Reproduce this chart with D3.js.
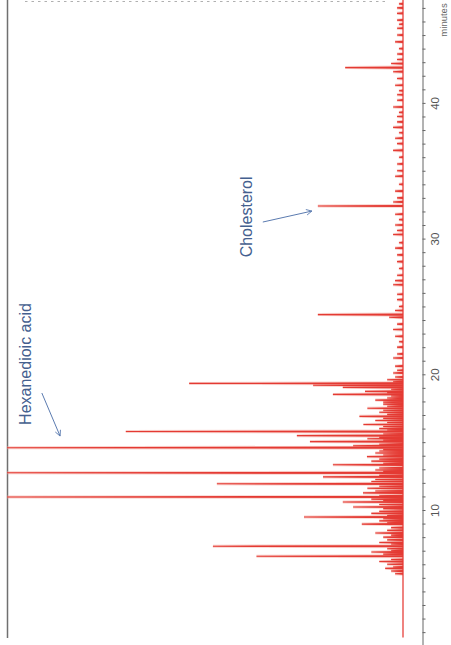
<!DOCTYPE html>
<html>
<head>
<meta charset="utf-8">
<script src="https://cdn.jsdelivr.net/npm/d3@7"></script>
<style>
  body { margin: 0; background: #fff; }
  svg { display: block; font-family: "Liberation Sans", Arial, sans-serif; }
</style>
</head>
<body>
<div id="chart"></div>
<script>
// chromatogram drawn sideways: retention time runs up the right edge, peaks grow to the left

// big labelled / tall peaks [minutes, % of full scale]
const majorPeaks = [
  [6.59, 37], [7.33, 48], [9.48, 25], [10.96, 100], [11.93, 47], [12.74, 100],
  [14.59, 100], [15.78, 70], [19.33, 54], [24.4, 21.5], [32.4, 21.5], [42.6, 14.6]
];

// medium peaks
const mediumPeaks = [
  [5.7, 4.5], [6.2, 6], [6.9, 8], [7.6, 6], [8.0, 5], [8.3, 7], [8.96, 10.4], [9.2, 6],
  [9.75, 8], [10.22, 12.6], [10.59, 15.2], [10.8, 8], [11.26, 10.1], [11.6, 9], [12.1, 8],
  [12.44, 20.2], [12.95, 7], [13.33, 17.7], [13.6, 8], [13.93, 9.1], [14.2, 7], [14.74, 12.6],
  [15.04, 23.5], [15.25, 9], [15.48, 26.8], [16.0, 6], [16.3, 10], [16.6, 7], [16.9, 11],
  [17.2, 6], [17.5, 9], [17.8, 5], [18.1, 7], [18.52, 17.7], [18.74, 9.6], [19.04, 15.2],
  [19.19, 22.7], [19.6, 4], [20.1, 2.5], [20.6, 2], [21.2, 2.5], [22.0, 1.5], [22.8, 2],
  [23.3, 2.5], [24.2, 3.5], [24.7, 2], [25.5, 1.5], [26.6, 2.5], [27.3, 1.5], [28.3, 1.5], [29.3, 2],
  [30.3, 2.5], [31.0, 2], [31.8, 2], [32.7, 2.5], [33.5, 2], [34.6, 2], [35.5, 1.5],
  [36.5, 2.5], [37.4, 2], [38.2, 2.5], [39.0, 1.5], [39.7, 2.5], [40.6, 1.5], [41.3, 2], [42.3, 2.5],
  [42.9, 3], [43.6, 1.5], [44.5, 2], [45.5, 1.5], [46.1, 1.5], [47.0, 1.5]
];

// small baseline noise spikes
const noisePeaks = [
  [5.3, 2], [5.5, 3], [5.8, 2.5], [6.0, 4], [6.35, 3], [6.75, 5], [7.0, 3], [7.15, 4], [7.5, 3],
  [7.8, 4], [8.15, 3], [8.5, 4], [8.7, 3], [9.05, 4], [9.35, 5], [9.6, 4], [9.9, 6], [10.1, 5],
  [10.4, 6], [10.7, 5], [11.05, 6], [11.4, 7], [11.75, 6], [12.25, 7], [12.55, 6], [12.85, 5],
  [13.1, 6], [13.45, 5], [13.75, 6], [14.05, 5], [14.35, 6], [14.45, 5], [14.85, 6], [15.15, 5],
  [15.35, 6], [15.6, 5], [15.9, 4], [16.15, 5], [16.45, 4], [16.75, 5], [17.05, 4], [17.35, 5],
  [17.65, 4], [17.95, 5], [18.25, 4], [18.4, 3], [18.65, 4], [18.9, 3], [19.45, 2.5], [19.8, 2],
  [20.3, 1.5], [21.5, 1.5], [22.4, 1], [23.7, 1.5], [25.0, 1], [25.9, 1.5], [26.9, 2], [27.8, 1],
  [28.8, 1.5], [29.7, 1], [30.6, 1.5], [31.4, 1], [33.0, 1.5], [34.0, 1], [35.0, 1.5], [36.0, 1],
  [37.0, 1.5], [37.8, 1], [38.6, 1.5], [39.3, 1], [40.2, 1.5], [40.9, 1], [41.8, 1.5], [43.2, 1.5],
  [44.0, 1], [45.0, 1.5], [45.8, 1], [46.6, 1.5], [47.3, 1]
];

const traceRange = [0.6, 47.7];
const tickLabels = ["10", "20", "30", "40"];
const axisTitle = "minutes";

// annotations: text pos, arrow start, arrow tip as (min, %)
const annotations = [
  { label: "Hexanedioic acid", at: [20.76, 93.9], from: [18.62, 91.2], to: [15.45, 86.6] },
  { label: "Cholesterol", at: [31.6, 38.1], from: [31.22, 35.4], to: [32.03, 23] }
];

const width = 451, height = 645;
const peakHalfWidth = 0.04;

const svg = d3.select("#chart")
  .append("svg")
  .attr("width", width)
  .attr("height", height);

const y = d3.scaleLinear().domain([0, 48]).range([645.7, 645.7 - 48 * 13.57]); // time
const x = d3.scaleLinear().domain([0, 100]).range([403, 7]); // intensity

svg.append("defs").append("marker")
  .attr("id", "arrow")
  .attr("viewBox", "0 0 10 10")
  .attr("refX", 9).attr("refY", 5)
  .attr("markerWidth", 7).attr("markerHeight", 7)
  .attr("orient", "auto-start-reverse")
  .append("path")
  .attr("d", "M1,1 L9,5 L1,9")
  .attr("fill", "none")
  .attr("stroke", "#5b7bb0")
  .attr("stroke-width", 1.2);

// frame bits
svg.append("line")
  .attr("x1", 7.5).attr("x2", 7.5).attr("y1", 0).attr("y2", 638)
  .attr("stroke", "#707070").attr("stroke-width", 1.5);
svg.append("line")
  .attr("x1", 25).attr("x2", 385).attr("y1", 1.5).attr("y2", 1.5)
  .attr("stroke", "#b0b0b0").attr("stroke-width", 1.2).attr("stroke-dasharray", "2.5,4");

const line = d3.line().x(d => x(d[1])).y(d => y(d[0]));
const allPeaks = majorPeaks.concat(mediumPeaks, noisePeaks);
const peakShape = d => line([[d[0] - peakHalfWidth, 0], [d[0], d[1]], [d[0] + peakHalfWidth, 0]]);

// soft halo under the trace
svg.append("g")
  .selectAll("path")
  .data(allPeaks)
  .join("path")
  .attr("d", peakShape)
  .attr("fill", "none")
  .attr("stroke", "#f3a49a")
  .attr("stroke-width", 3)
  .attr("stroke-opacity", 0.5);

svg.append("path")
  .attr("d", line([[traceRange[0], 0], [traceRange[1], 0]]))
  .attr("stroke", "#e5302a").attr("stroke-width", 1.2).attr("fill", "none");

svg.append("g")
  .selectAll("path")
  .data(allPeaks)
  .join("path")
  .attr("d", peakShape)
  .attr("fill", "#e43a33")
  .attr("stroke", "#e43a33")
  .attr("stroke-width", 1.1);

// time axis on the right
const axis = svg.append("g")
  .attr("transform", "translate(422.5,0)")
  .call(d3.axisRight(y)
    .ticks(48)
    .tickSize(3)
    .tickSizeOuter(0)
    .tickFormat(d => tickLabels.includes(String(d)) ? d : ""));

axis.select(".domain").attr("stroke", "#666");
axis.selectAll(".tick line").attr("stroke", "#666");
axis.selectAll(".tick text")
  .attr("x", 0).attr("y", 16).attr("dy", null)
  .attr("transform", "rotate(-90)")
  .attr("text-anchor", "middle")
  .attr("fill", "#555")
  .style("font-size", "11.5px");

svg.append("text")
  .attr("transform", "translate(447,20) rotate(-90)")
  .attr("text-anchor", "middle")
  .attr("fill", "#666")
  .style("font-size", "9.5px")
  .text(axisTitle);

// annotations
const ann = svg.append("g").selectAll("g").data(annotations).join("g");
ann.append("text")
  .attr("transform", d => `translate(${x(d.at[1])},${y(d.at[0])}) rotate(-90)`)
  .attr("text-anchor", "middle")
  .attr("fill", "#44608f")
  .style("font-size", "16px")
  .text(d => d.label);
ann.append("line")
  .attr("x1", d => x(d.from[1])).attr("y1", d => y(d.from[0]))
  .attr("x2", d => x(d.to[1])).attr("y2", d => y(d.to[0]))
  .attr("stroke", "#5b7bb0").attr("stroke-width", 1)
  .attr("marker-end", "url(#arrow)");
</script>
</body>
</html>
